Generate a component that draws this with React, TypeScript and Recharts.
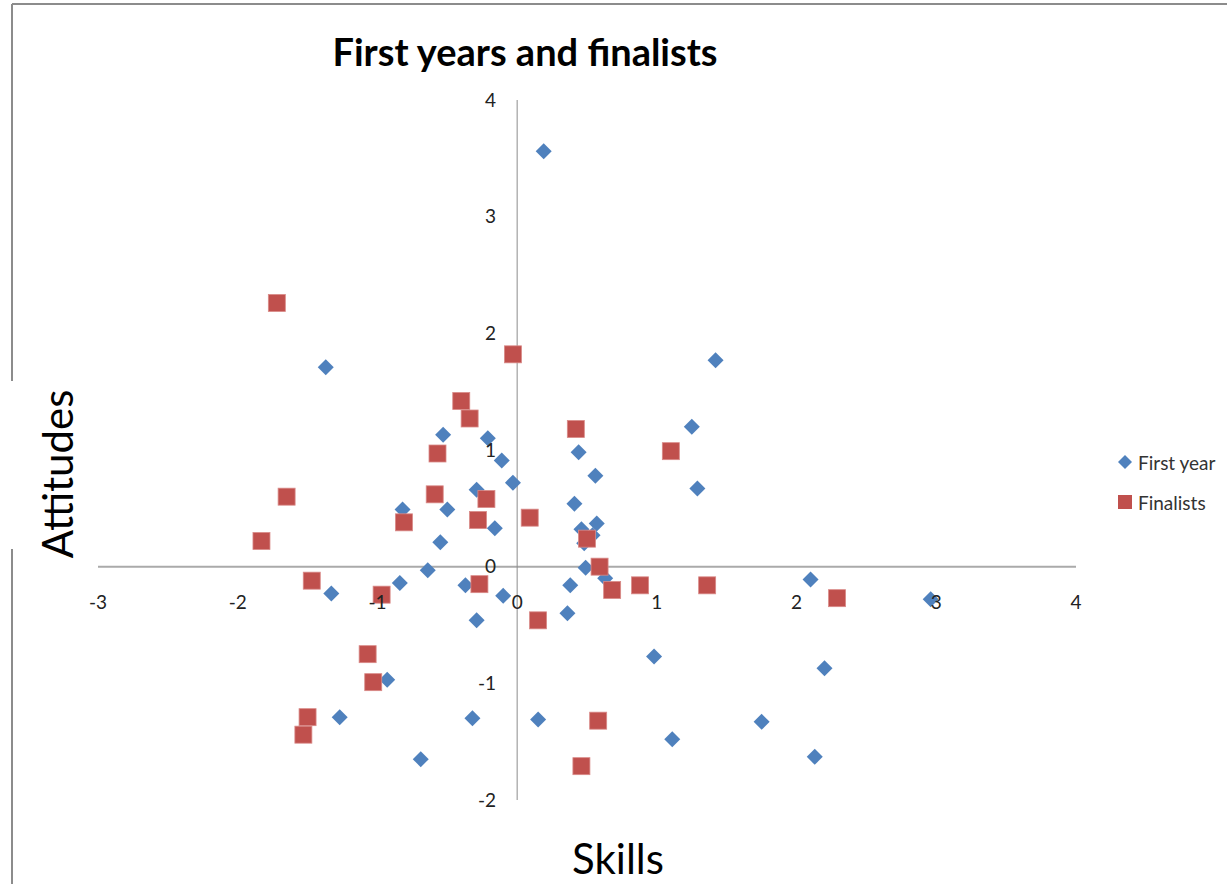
import React from 'react';
import { ScatterChart, Scatter, XAxis, YAxis, ReferenceLine, ReferenceDot, Legend } from 'recharts';

// values
const firstYearSkills = [
  0.19, -1.37, 1.42, 1.25, -0.53, -0.21, 0.44, -0.11, 0.56, -0.03, 1.29, -0.29, 0.41, -0.82, -0.5,
  -0.16, 0.46, 0.57, 0.54, 0.48, -0.55, 0.49, 0.63, -0.64, -0.84, -0.37, -1.33, -0.1, 0.38, 0.36,
  -0.29, 2.1, 2.96, 0.98, 2.2, -0.93, -1.27, -0.32, 0.15, 1.75, 1.11, -0.69, 2.13,
];
const firstYearAttitudes = [
  3.56, 1.71, 1.77, 1.2, 1.13, 1.1, 0.98, 0.91, 0.78, 0.72, 0.67, 0.66, 0.54, 0.49, 0.49,
  0.33, 0.32, 0.37, 0.27, 0.2, 0.21, -0.01, -0.1, -0.03, -0.14, -0.16, -0.23, -0.25, -0.16, -0.4,
  -0.46, -0.11, -0.28, -0.77, -0.87, -0.97, -1.29, -1.3, -1.31, -1.33, -1.48, -1.65, -1.63,
];
const finalistSkills = [
  -1.72, -0.03, -0.4, -0.34, 0.42, 1.1, -0.57, -1.65, -0.59, -0.22, 0.09, -0.81, -0.28, -1.83, 0.5,
  0.59, -1.47, -0.27, -0.97, 0.68, 0.88, 1.36, 2.29, 0.15, -1.07, -1.03, -1.5, -1.53, 0.58, 0.46,
];
const finalistAttitudes = [
  2.26, 1.82, 1.42, 1.27, 1.18, 0.99, 0.97, 0.6, 0.62, 0.58, 0.42, 0.38, 0.4, 0.22, 0.24,
  0, -0.12, -0.15, -0.24, -0.2, -0.16, -0.16, -0.27, -0.46, -0.75, -0.99, -1.29, -1.44, -1.32, -1.71,
];

const seriesNames = ['First year', 'Finalists'];
const xTicks = [-3, -2, -1, 0, 1, 2, 3, 4];
const yTicks = [-2, -1, 0, 1, 2, 3, 4];

const BLUE = '#4F81BD';
const RED = '#C0504D';
const FONT = 'Lato, "Open Sans", sans-serif';

const toPoints = (xs: number[], ys: number[]) => xs.map((x, i) => ({ x, y: ys[i] }));
const firstYear = toPoints(firstYearSkills, firstYearAttitudes);
const finalists = toPoints(finalistSkills, finalistAttitudes);

const Diamond = ({ cx, cy }: any) => (
  <polygon points={`${cx},${cy - 8} ${cx + 8},${cy} ${cx},${cy + 8} ${cx - 8},${cy}`} fill={BLUE} />
);

const Square = ({ cx, cy }: any) => (
  <rect x={cx - 8.5} y={cy - 8.5} width={17} height={17} fill={RED} stroke="#d98a88" strokeWidth={0.8} />
);

const tickLabel = { fill: '#222', fontSize: 19, fontFamily: FONT };

const renderLegend = (props: any) => {
  // keep series order, not alphabetical
  const items = [...(props.payload || [])].sort(
    (a: any, b: any) => seriesNames.indexOf(a.value) - seriesNames.indexOf(b.value)
  );
  return (
    <div style={{ fontFamily: FONT, fontSize: 19, color: '#333' }}>
      {items.map((entry: any) => (
        <div key={entry.value} style={{ display: 'flex', alignItems: 'center', height: 40 }}>
          <svg width={16} height={16} style={{ marginRight: 5 }}>
            {entry.value === seriesNames[0] ? (
              <polygon points="8,1 15,8 8,15 1,8" fill={BLUE} />
            ) : (
              <rect x={1} y={1} width={14} height={14} fill={RED} />
            )}
          </svg>
          <span>{entry.value}</span>
        </div>
      ))}
    </div>
  );
};

export default function App() {
  return (
    <div style={{ position: 'absolute', left: 0, top: 0, width: 1227, height: 884, background: '#fff' }}>
      <svg width={1227} height={884} style={{ position: 'absolute', left: 0, top: 0 }}>
        {/* outer frame */}
        <line x1={12} y1={4} x2={1227} y2={4} stroke="#8c8c8c" strokeWidth={2} />
        <line x1={12} y1={4} x2={12} y2={884} stroke="#8c8c8c" strokeWidth={2} />
        <rect x={4} y={381} width={20} height={168} fill="#fff" />
        <text x={525} y={66} textAnchor="middle" fontFamily={FONT} fontWeight="bold" fontSize={38} fill="#000">
          First years and finalists
        </text>
        <text x={618} y={874} textAnchor="middle" fontFamily={FONT} fontSize={42} fill="#000">
          Skills
        </text>
        <text transform="translate(73,474) rotate(-90)" textAnchor="middle" fontFamily={FONT} fontSize={42} fill="#000">
          Attitudes
        </text>
      </svg>
      <div style={{ position: 'absolute', left: 0, top: 0 }}>
        <ScatterChart width={1227} height={884} margin={{ top: 100, right: 151, bottom: 84, left: 98 }}>
          <XAxis type="number" dataKey="x" domain={[-3, 4]} ticks={xTicks} hide />
          <YAxis type="number" dataKey="y" domain={[-2, 4]} ticks={yTicks} hide />
          <ReferenceLine y={0} stroke="#aaaaaa" strokeWidth={2} />
          <ReferenceLine x={0} stroke="#8c8c8c" strokeWidth={1} />
          {xTicks.map((v) => (
            <ReferenceDot
              key={'x' + v}
              x={v}
              y={0}
              r={0}
              fill="none"
              stroke="none"
              label={{ value: String(v), position: 'bottom', offset: 29, ...tickLabel }}
            />
          ))}
          {yTicks.map((v) => (
            <ReferenceDot
              key={'y' + v}
              x={0}
              y={v}
              r={0}
              fill="none"
              stroke="none"
              label={{ value: String(v), position: 'left', offset: 21, ...tickLabel }}
            />
          ))}
          <Scatter name={seriesNames[0]} data={firstYear} fill={BLUE} shape={Diamond} isAnimationActive={false} />
          <Scatter name={seriesNames[1]} data={finalists} fill={RED} shape={Square} isAnimationActive={false} />
          <Legend
            layout="vertical"
            align="center"
            verticalAlign="middle"
            content={renderLegend}
            wrapperStyle={{ left: 1117, top: 442, width: 110 }}
          />
        </ScatterChart>
      </div>
    </div>
  );
}
